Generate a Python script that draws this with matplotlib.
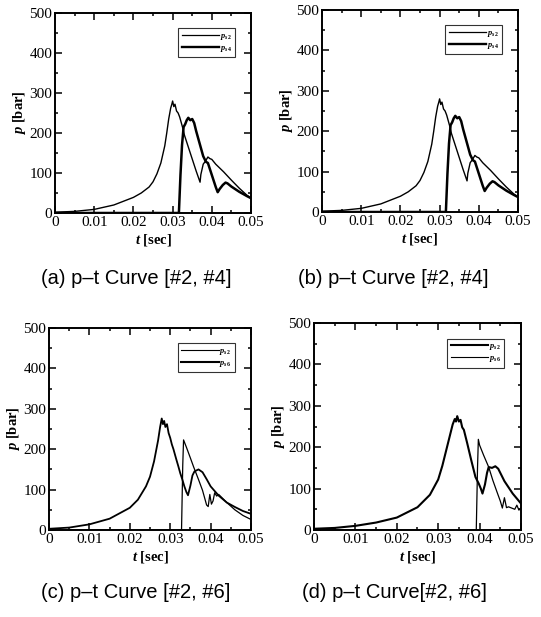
import numpy as np
import matplotlib
matplotlib.use("Agg")
import matplotlib.pyplot as plt
from matplotlib.lines import Line2D
from matplotlib.ticker import MultipleLocator

plt.rcParams['font.family'] = ['Liberation Serif', 'DejaVu Serif']
plt.rcParams['mathtext.fontset'] = 'custom'
plt.rcParams['mathtext.it'] = 'Liberation Serif:italic:bold'
plt.rcParams['mathtext.rm'] = 'Liberation Serif:bold'

# ---------------- DATA ----------------
x_ticks = [0, 0.01, 0.02, 0.03, 0.04, 0.05]
x_tick_labels = ['0', '0.01', '0.02', '0.03', '0.04', '0.05']
y_ticks = [0, 100, 200, 300, 400, 500]

# (a), (b): sensors #2 and #4
t_s2_ab = [0, 0.005, 0.01, 0.015, 0.02, 0.022, 0.024, 0.025, 0.026, 0.027, 0.028,
           0.0285, 0.029, 0.0295, 0.0298, 0.030, 0.0303, 0.0306, 0.031, 0.0314,
           0.0318, 0.0322, 0.0326, 0.033, 0.034, 0.035, 0.036, 0.037,
           0.0372, 0.0378, 0.0384, 0.039, 0.0395, 0.040, 0.041, 0.043, 0.045,
           0.047, 0.049, 0.050]
p_s2_ab = [2, 4, 9, 20, 39, 50, 65, 78, 98, 125, 168,
           200, 235, 262, 272, 280, 266, 272, 255, 250,
           240, 226, 212, 195, 165, 135, 105, 77,
           96, 122, 130, 140, 136, 134, 122, 103, 82,
           62, 44, 37]
t_s4_ab = [0, 0.0316, 0.0320, 0.0324, 0.0328, 0.0332, 0.0336, 0.034, 0.0345,
           0.035, 0.0355, 0.036, 0.037, 0.0378, 0.0385, 0.039, 0.040, 0.041,
           0.0415, 0.042, 0.0428, 0.0435, 0.044, 0.045, 0.047, 0.049, 0.050]
p_s4_ab = [0, 0, 95, 170, 215, 222, 232, 238, 232,
           235, 225, 205, 170, 142, 128, 125, 95, 65,
           52, 60, 70, 76, 74, 66, 53, 42, 37]

# (c): sensors #2 and #6
t_s2_c = [0, 0.005, 0.01, 0.015, 0.02, 0.022, 0.024, 0.025, 0.026, 0.027, 0.0275,
          0.0279, 0.0282, 0.0285, 0.0288, 0.0292, 0.0296, 0.030, 0.0304, 0.0308,
          0.0315, 0.032, 0.0325, 0.033, 0.0335, 0.034, 0.0344, 0.035, 0.0355,
          0.036, 0.037, 0.038, 0.039, 0.040, 0.042, 0.044, 0.046, 0.048, 0.050]
p_s2_c = [3, 6, 14, 28, 55, 75, 108, 132, 170, 222, 255,
          276, 262, 270, 255, 262, 240, 228, 212, 200,
          175, 158, 140, 125, 108, 94, 86, 110, 135,
          145, 150, 143, 126, 108, 85, 68, 57, 47, 40]
t_s6_c = [0, 0.0328, 0.0331, 0.0333, 0.034, 0.035, 0.0358, 0.037, 0.038, 0.039,
          0.0394, 0.0398, 0.0402, 0.0406, 0.041, 0.0415, 0.042, 0.044, 0.046,
          0.048, 0.050]
p_s6_c = [0, 0, 160, 223, 205, 178, 156, 125, 98, 62,
          58, 88, 64, 72, 92, 84, 88, 68, 50, 36, 26]

# (d): sensors #2 and #6
t_s2_d = [0, 0.005, 0.01, 0.015, 0.02, 0.025, 0.028, 0.030, 0.031, 0.032, 0.033,
          0.0335, 0.034, 0.0343, 0.0346, 0.035, 0.0354, 0.0358, 0.0362, 0.037,
          0.038, 0.039, 0.0398, 0.0403, 0.0407, 0.0413, 0.0418, 0.0422, 0.043,
          0.0438, 0.0445, 0.046, 0.048, 0.050]
p_s2_d = [3, 5, 10, 18, 30, 55, 85, 122, 155, 195, 235,
          255, 268, 262, 275, 262, 266, 248, 242, 210,
          168, 128, 112, 100, 88, 110, 138, 152, 150,
          154, 148, 118, 88, 64]
t_s6_d = [0, 0.0392, 0.0395, 0.0397, 0.040, 0.041, 0.0422, 0.0432, 0.0442, 0.045,
          0.0455, 0.046, 0.0465, 0.047, 0.048, 0.0485, 0.049, 0.0495, 0.050]
p_s6_d = [0, 0, 150, 219, 205, 180, 152, 120, 92, 70,
          53, 78, 54, 56, 52, 50, 60, 48, 54]

# ---------------- FIGURE ----------------
fig = plt.figure(figsize=(5.41, 6.17), dpi=100)

axes_pos = [[0.1017, 0.6548, 0.3623, 0.3241],
            [0.5952, 0.6564, 0.3623, 0.3274],
            [0.0906, 0.1410, 0.3734, 0.3274],
            [0.5804, 0.1410, 0.3826, 0.3355]]

panels = [
    (t_s2_ab, p_s2_ab, 1.0, t_s4_ab, p_s4_ab, 1.8, r'$p_{s2}$', r'$p_{s4}$', (0.9, 1.7)),
    (t_s2_ab, p_s2_ab, 1.0, t_s4_ab, p_s4_ab, 1.8, r'$p_{s2}$', r'$p_{s4}$', (0.9, 1.7)),
    (t_s2_c, p_s2_c, 1.3, t_s6_c, p_s6_c, 0.9, r'$p_{s2}$', r'$p_{s6}$', (0.8, 1.5)),
    (t_s2_d, p_s2_d, 1.5, t_s6_d, p_s6_d, 0.9, r'$p_{s2}$', r'$p_{s6}$', (1.5, 0.8)),
]

captions = ['(a) p\u2013t Curve [#2, #4]', '(b) p\u2013t Curve [#2, #4]',
            '(c) p\u2013t Curve [#2, #6]', '(d) p\u2013t Curve[#2, #6]']
caption_xy = [(136, 278), (393, 278), (136, 593), (394, 593)]

for pos, pan, cap, cxy in zip(axes_pos, panels, captions, caption_xy):
    t1, p1, w1, t2, p2, w2, lab1, lab2, legw = pan
    ax = fig.add_axes(pos)
    ax.plot(t1, p1, color='black', lw=w1)
    ax.plot(t2, p2, color='black', lw=w2)
    ax.set_xlim(0, 0.05)
    ax.set_ylim(0, 500)
    ax.set_xticks(x_ticks)
    ax.set_xticklabels(x_tick_labels)
    ax.set_yticks(y_ticks)
    ax.xaxis.set_minor_locator(MultipleLocator(0.005))
    ax.yaxis.set_minor_locator(MultipleLocator(50))
    ax.tick_params(which='both', direction='in', top=True, right=True,
                   labelsize=11, pad=2, width=1.1)
    ax.tick_params(which='major', length=5)
    ax.tick_params(which='minor', length=2.5)
    for s in ax.spines.values():
        s.set_linewidth(1.4)
    ax.set_xlabel(r'$t$ [sec]', fontweight='bold', fontsize=10.5, labelpad=2)
    ax.set_ylabel(r'$p$ [bar]', fontweight='bold', fontsize=10.5, labelpad=1)
    handles = [Line2D([], [], color='black', lw=legw[0]),
               Line2D([], [], color='black', lw=legw[1])]
    leg = ax.legend(handles, [lab1, lab2], loc='upper right',
                    bbox_to_anchor=(0.94, 0.945), fontsize=6,
                    frameon=True, fancybox=False, edgecolor='black',
                    handlelength=4.5, handletextpad=0.1, borderpad=0.4,
                    labelspacing=0.3, markerfirst=True)
    leg.get_frame().set_linewidth(0.8)
    fig.text(cxy[0] / 541, 1 - cxy[1] / 617, cap, ha='center', va='center',
             fontsize=14.5, family=['Liberation Sans', 'DejaVu Sans'])

fig.savefig('out.png', dpi=100)
